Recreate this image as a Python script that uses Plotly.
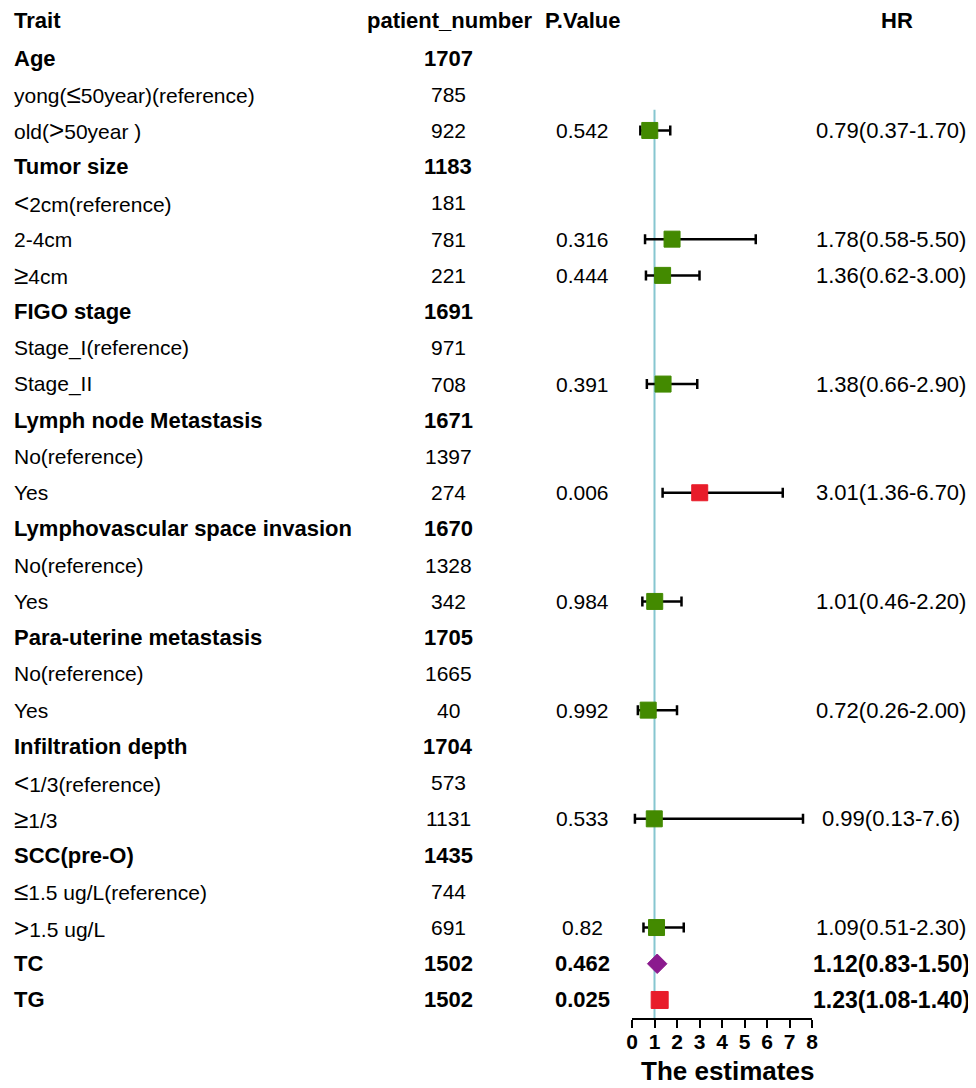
import plotly.graph_objects as go

# ---- data ----
traits = ["Age", "yong(≤50year)(reference)", "old(>50year )",
          "Tumor size", "<2cm(reference)", "2-4cm", "≥4cm",
          "FIGO stage", "Stage_I(reference)", "Stage_II",
          "Lymph node Metastasis", "No(reference)", "Yes",
          "Lymphovascular space invasion", "No(reference)", "Yes",
          "Para-uterine metastasis", "No(reference)", "Yes",
          "Infiltration depth", "<1/3(reference)", "≥1/3",
          "SCC(pre-O)", "≤1.5 ug/L(reference)", ">1.5 ug/L",
          "TC", "TG"]
patient_number = [1707, 785, 922, 1183, 181, 781, 221, 1691, 971, 708,
                  1671, 1397, 274, 1670, 1328, 342, 1705, 1665, 40,
                  1704, 573, 1131, 1435, 744, 691, 1502, 1502]
is_bold = [1, 0, 0, 1, 0, 0, 0, 1, 0, 0, 1, 0, 0, 1, 0, 0, 1, 0, 0,
           1, 0, 0, 1, 0, 0, 1, 1]
p_value = ["", "", "0.542", "", "", "0.316", "0.444", "", "", "0.391",
           "", "", "0.006", "", "", "0.984", "", "", "0.992",
           "", "", "0.533", "", "", "0.82", "0.462", "0.025"]
hr = [None, None, 0.79, None, None, 1.78, 1.36, None, None, 1.38,
      None, None, 3.01, None, None, 1.01, None, None, 0.72,
      None, None, 0.99, None, None, 1.09, 1.12, 1.23]
hr_low = [None, None, 0.37, None, None, 0.58, 0.62, None, None, 0.66,
          None, None, 1.36, None, None, 0.46, None, None, 0.26,
          None, None, 0.13, None, None, 0.51, 0.83, 1.08]
hr_high = [None, None, 1.70, None, None, 5.50, 3.00, None, None, 2.90,
           None, None, 6.70, None, None, 2.20, None, None, 2.00,
           None, None, 7.6, None, None, 2.30, 1.50, 1.40]
hr_label = ["", "", "0.79(0.37-1.70)", "", "", "1.78(0.58-5.50)", "1.36(0.62-3.00)",
            "", "", "1.38(0.66-2.90)", "", "", "3.01(1.36-6.70)", "", "",
            "1.01(0.46-2.20)", "", "", "0.72(0.26-2.00)", "", "",
            "0.99(0.13-7.6)", "", "", "1.09(0.51-2.30)", "1.12(0.83-1.50)",
            "1.23(1.08-1.40)"]
# marker style group: 'g' green square w/ CI, 'r' red square w/ CI,
# 'd' purple diamond summary, 's' red square summary
group = ["", "", "g", "", "", "g", "g", "", "", "g", "", "", "r", "", "", "g",
         "", "", "g", "", "", "g", "", "", "g", "d", "s"]
headers = ["Trait", "patient_number", "P.Value", "HR"]
x_ticks = [0, 1, 2, 3, 4, 5, 6, 7, 8]
x_title = "The estimates"

# page body has an 8px margin, so the figure is laid out 8px in from the window
OFF = 8
W, H = 976 - OFF, 1088 - OFF
FONT = "Liberation Sans, Arial, sans-serif"
rows = list(range(len(traits)))

AX_BOTTOM = 1018 - OFF          # pixel row of the x axis line
ROW0, ROWSTEP = 58 - OFF, 36.23  # pixel of first row and spacing
y_top = -ROW0 / ROWSTEP
y_bot = (AX_BOTTOM - ROW0) / ROWSTEP

fig = go.Figure()


def add_markers(code, color, symbol, size, with_err):
    idx = [i for i in rows if group[i] == code]
    xs = [hr[i] for i in idx]
    kw = {}
    if with_err:
        kw["error_x"] = dict(type="data", symmetric=False,
                             array=[hr_high[i] - hr[i] for i in idx],
                             arrayminus=[hr[i] - hr_low[i] for i in idx],
                             color="black", thickness=2.5, width=5)
    fig.add_trace(go.Scatter(x=xs, y=idx, mode="markers",
                             marker=dict(symbol=symbol, size=size, color=color,
                                         line=dict(width=1, color=color)),
                             showlegend=False, hoverinfo="skip", **kw))


# reference line at HR = 1
fig.add_shape(type="line", x0=1, x1=1, y0=1.43, y1=y_bot, xref="x", yref="y",
              line=dict(color="#86c6d0", width=2), layer="below")

add_markers("g", "#438a00", "square", 16, True)
add_markers("r", "#e81c2a", "square", 16, True)
add_markers("d", "#8b1a8e", "diamond", 15, False)
add_markers("s", "#e81c2a", "square", 17, False)

SYM = {"<": "&lt;", ">": "&gt;", "≤": "≤", "≥": "≥"}


def fmt(s):
    out = ""
    for ch in s:
        if ch in SYM:
            out += '<span style="font-size:26px">' + SYM[ch] + "</span>"
        else:
            out += ch
    return out


ann = []


def txt(x_ref_px, y, s, bold, anchor, size):
    ann.append(dict(x=(x_ref_px - OFF) / W, xref="paper", y=y, yref="y",
                    text=fmt(s), showarrow=False, xanchor=anchor,
                    yanchor="middle",
                    font=dict(family=FONT, size=size, color="black",
                              weight="bold" if bold else "normal")))


header_y = (20 - OFF - ROW0) / ROWSTEP
txt(12, header_y, headers[0], True, "left", 22)
txt(449, header_y, headers[1], True, "center", 22)
txt(582, header_y, headers[2], True, "center", 22)
txt(897, header_y, headers[3], True, "center", 22)

for i in rows:
    b = bool(is_bold[i])
    sz = 22 if b else 21
    txt(12, i, traits[i], b, "left", sz)
    txt(448, i, str(patient_number[i]), b, "center", sz)
    if p_value[i]:
        txt(582, i, p_value[i], b, "center", sz)
    if hr_label[i]:
        txt(891, i, hr_label[i], b, "center", 23 if b else 22)

# x-axis title, box bottom sits just inside the figure's bottom edge
ann.append(dict(x=(727 - OFF) / W, xref="paper",
                y=(AX_BOTTOM - (H - 1)) / AX_BOTTOM, yref="paper",
                text=x_title, showarrow=False, xanchor="center",
                yanchor="bottom", borderpad=0,
                font=dict(family=FONT, size=26, color="black", weight="bold")))

fig.update_layout(
    width=W, height=H,
    margin=dict(l=0, r=0, t=0, b=H - AX_BOTTOM, pad=0),
    paper_bgcolor="white", plot_bgcolor="white",
    annotations=ann,
    xaxis=dict(domain=[(632 - OFF) / W, (812 - OFF) / W], range=[0, 8],
               tickvals=x_ticks, ticktext=[str(v) for v in x_ticks],
               showline=True, linecolor="black", linewidth=2,
               ticks="outside", ticklen=8, tickwidth=2, tickcolor="black",
               ticklabelstandoff=-4,
               showgrid=False, zeroline=False, automargin=False,
               tickfont=dict(family=FONT, size=21, color="black", weight="bold")),
    yaxis=dict(range=[y_bot, y_top], visible=False, showgrid=False,
               zeroline=False, automargin=False),
)

fig.write_html("out.html")
